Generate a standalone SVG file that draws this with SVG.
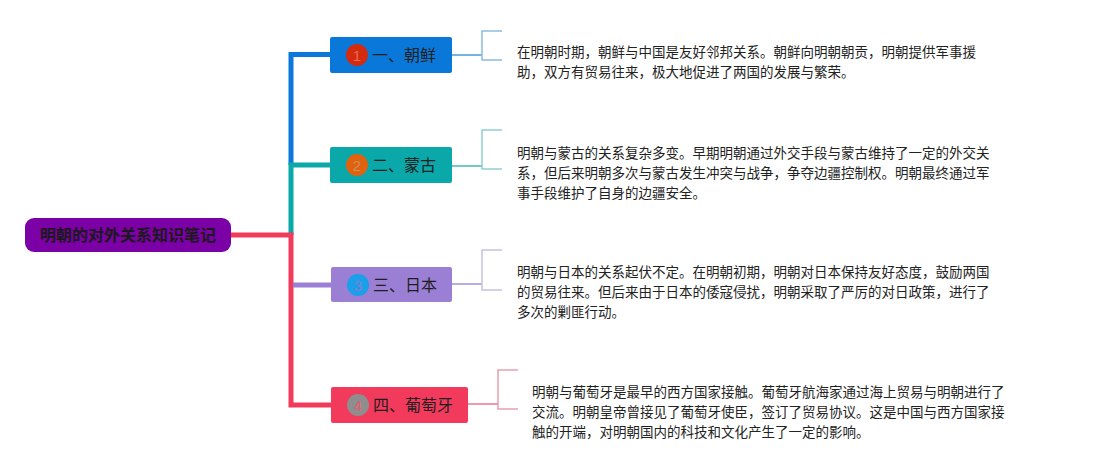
<svg xmlns="http://www.w3.org/2000/svg" width="1093" height="470" viewBox="0 0 1093 470">
<style>
.cjk{font-family:"Noto Sans CJK SC","Noto Sans",sans-serif;}
.t{font-size:16px;fill:#1f1f1f;}
.d{font-size:13.5px;fill:#222;}
.num{font-family:"Liberation Sans",Arial,sans-serif;font-size:15px;text-anchor:middle;}
.trunk{fill:none;stroke-width:5;stroke-linejoin:miter;stroke-linecap:butt;}
.thin{fill:none;stroke-width:1.5;}
</style>
<rect width="1093" height="470" fill="#ffffff"/>
<g id="connectors">
<path class="trunk" stroke="#0A78D8" d="M331 54.5 H291 V165"/>
<path class="trunk" stroke="#0AA8A8" d="M331 165 H291 V235"/>
<path class="trunk" stroke="#F23A5C" d="M231 235 H291 V405 H331"/>
<path class="trunk" stroke="#9B7FD4" d="M293 285 H331"/>
<path class="thin" stroke="#4A9AD8" d="M452 55 H482"/>
<path class="thin" stroke="#8BBCE0" d="M502 31 H482 V60 H502"/>
<path class="thin" stroke="#40B8B8" d="M452 166 H482"/>
<path class="thin" stroke="#90D0D0" d="M502 130 H482 V169 H502"/>
<path class="thin" stroke="#A090D8" d="M452 284 H482"/>
<path class="thin" stroke="#C8C0E0" d="M502 250 H482 V290 H502"/>
<path class="thin" stroke="#E87890" d="M468 404 H498"/>
<path class="thin" stroke="#E8A0B0" d="M518 370 H498 V409 H518"/>
</g>
<g id="root">
<rect x="25" y="218" width="206" height="34" rx="9" fill="#7B00A6"/>
<text class="cjk" x="128" y="241" text-anchor="middle" font-size="16" font-weight="bold" fill="#1a1a1a">明朝的对外关系知识笔记</text>
</g>
<g id="node1">
<rect x="330" y="37" width="122" height="36" rx="2" fill="#0A78D8"/>
<circle cx="357" cy="55" r="11" fill="#D42A0E"/>
<text class="num" x="357" y="60.5" fill="#E86A55">1</text>
<text class="cjk t" x="372" y="61">一、朝鲜</text>
</g>
<g id="node2">
<rect x="330" y="147" width="122" height="36" rx="2" fill="#0AA8A8"/>
<circle cx="357" cy="165" r="11" fill="#E0620F"/>
<text class="num" x="357" y="170.5" fill="#C9935A">2</text>
<text class="cjk t" x="372" y="171">二、蒙古</text>
</g>
<g id="node3">
<rect x="331" y="267" width="121" height="35" rx="2" fill="#9B7FD4"/>
<circle cx="358" cy="285" r="11" fill="#1AA0E8"/>
<text class="num" x="358" y="290.5" fill="#8A78D8">3</text>
<text class="cjk t" x="373" y="291">三、日本</text>
</g>
<g id="node4">
<rect x="331" y="387" width="137" height="36" rx="2" fill="#F23A5C"/>
<circle cx="358" cy="405" r="11" fill="#8E8E8E"/>
<text class="num" x="358" y="410.5" fill="#E85A6E">4</text>
<text class="cjk t" x="373" y="411">四、葡萄牙</text>
</g>
<g id="detail1">
<text class="cjk d" x="517" y="57">在明朝时期，朝鲜与中国是友好邻邦关系。朝鲜向明朝朝贡，明朝提供军事援</text>
<text class="cjk d" x="517" y="77">助，双方有贸易往来，极大地促进了两国的发展与繁荣。</text>
</g>
<g id="detail2">
<text class="cjk d" x="517" y="158">明朝与蒙古的关系复杂多变。早期明朝通过外交手段与蒙古维持了一定的外交关</text>
<text class="cjk d" x="517" y="178">系，但后来明朝多次与蒙古发生冲突与战争，争夺边疆控制权。明朝最终通过军</text>
<text class="cjk d" x="517" y="198">事手段维护了自身的边疆安全。</text>
</g>
<g id="detail3">
<text class="cjk d" x="517" y="277">明朝与日本的关系起伏不定。在明朝初期，明朝对日本保持友好态度，鼓励两国</text>
<text class="cjk d" x="517" y="297">的贸易往来。但后来由于日本的倭寇侵扰，明朝采取了严厉的对日政策，进行了</text>
<text class="cjk d" x="517" y="317">多次的剿匪行动。</text>
</g>
<g id="detail4">
<text class="cjk d" x="532" y="397">明朝与葡萄牙是最早的西方国家接触。葡萄牙航海家通过海上贸易与明朝进行了</text>
<text class="cjk d" x="532" y="417">交流。明朝皇帝曾接见了葡萄牙使臣，签订了贸易协议。这是中国与西方国家接</text>
<text class="cjk d" x="532" y="437">触的开端，对明朝国内的科技和文化产生了一定的影响。</text>
</g>
</svg>
